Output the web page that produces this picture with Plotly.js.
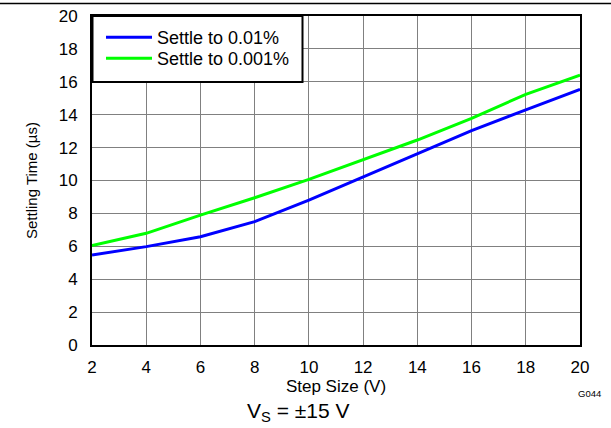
<!DOCTYPE html>
<html>
<head>
<meta charset="utf-8">
<script src="https://cdn.plot.ly/plotly-3.0.1.min.js"></script>
<style>html,body{margin:0;padding:0;background:#fff;}#chart{width:611px;height:428px;}</style>
</head>
<body>
<div id="chart"></div>
<script>
const stepSize = [2, 4, 6, 8, 10, 12, 14, 16, 18, 20];
const settle001 = [5.47, 5.98, 6.58, 7.5, 8.81, 10.23, 11.65, 13.03, 14.29, 15.54];
const settle0001 = [6.05, 6.79, 7.9, 8.95, 10.07, 11.25, 12.46, 13.78, 15.24, 16.41];
const seriesNames = ['Settle to 0.01%', 'Settle to 0.001%'];
const xTitle = 'Step Size (V)';
const yTitle = 'Settling Time (µs)';
const noteText = 'V<sub>S</sub> = ±15 V';
const codeText = 'G044';

const font = 'Arial, "Liberation Sans", sans-serif';
const W = 488, H = 329, L = 92, T = 16;
const px = v => (v - L) / W;
const py = v => 1 - (v - T) / H;

const traces = [
  {x: stepSize, y: settle001, name: seriesNames[0], type: 'scatter', mode: 'lines',
   line: {color: '#0000FF', width: 3}, legend: 'legend'},
  {x: stepSize, y: settle0001, name: seriesNames[1], type: 'scatter', mode: 'lines',
   line: {color: '#00FF00', width: 3}, legend: 'legend2'}
];

const legendStyle = (top) => ({
  x: px(101), y: py(top), xanchor: 'left', yanchor: 'top',
  bgcolor: 'rgba(0,0,0,0)', borderwidth: 0,
  font: {family: font, size: 18, color: '#000'},
  itemwidth: 46
});

const layout = {
  width: 611, height: 428,
  margin: {l: 92, r: 31, t: 16, b: 83},
  paper_bgcolor: '#fff', plot_bgcolor: '#fff',
  font: {family: font, color: '#000', size: 17},
  showlegend: true,
  legend: legendStyle(19),
  legend2: legendStyle(40),
  xaxis: {
    range: [2, 20], dtick: 2, tick0: 2, fixedrange: true,
    showline: true, mirror: true, linecolor: '#000', linewidth: 2,
    showgrid: true, gridcolor: '#808080', gridwidth: 1, zeroline: false,
    ticks: '', ticklabelstandoff: 6,
    tickfont: {family: font, size: 17, color: '#000'},
    title: {text: xTitle, font: {family: font, size: 17, color: '#000'}, standoff: 4},
    automargin: false
  },
  yaxis: {
    range: [0, 20], dtick: 2, tick0: 0, fixedrange: true,
    showline: true, mirror: true, linecolor: '#000', linewidth: 2,
    showgrid: true, gridcolor: '#808080', gridwidth: 1, zeroline: false,
    ticks: '', ticklabelstandoff: 9,
    tickfont: {family: font, size: 17, color: '#000'},
    title: {text: yTitle, font: {family: font, size: 15, color: '#000'}, standoff: 17},
    automargin: false
  },
  shapes: [
    {type: 'line', xref: 'paper', yref: 'paper', x0: px(0), x1: px(611),
     y0: py(3.5), y1: py(3.5), line: {color: '#000', width: 1.5}},
    {type: 'rect', xref: 'paper', yref: 'paper', layer: 'above',
     x0: px(92.5), x1: px(302.5), y0: py(16), y1: py(82),
     fillcolor: '#fff', line: {color: '#000', width: 2}}
  ],
  annotations: [
    {xref: 'paper', yref: 'paper', x: px(603), y: py(393.5), xanchor: 'right', yanchor: 'middle',
     text: codeText, showarrow: false, font: {family: font, size: 9.5, color: '#000'}},
    {xref: 'paper', yref: 'paper', x: px(298), y: py(412), xanchor: 'center', yanchor: 'middle',
     text: noteText, showarrow: false, font: {family: font, size: 21, color: '#000'}}
  ]
};

Plotly.newPlot('chart', traces, layout, {staticPlot: true, displayModeBar: false});
</script>
</body>
</html>
